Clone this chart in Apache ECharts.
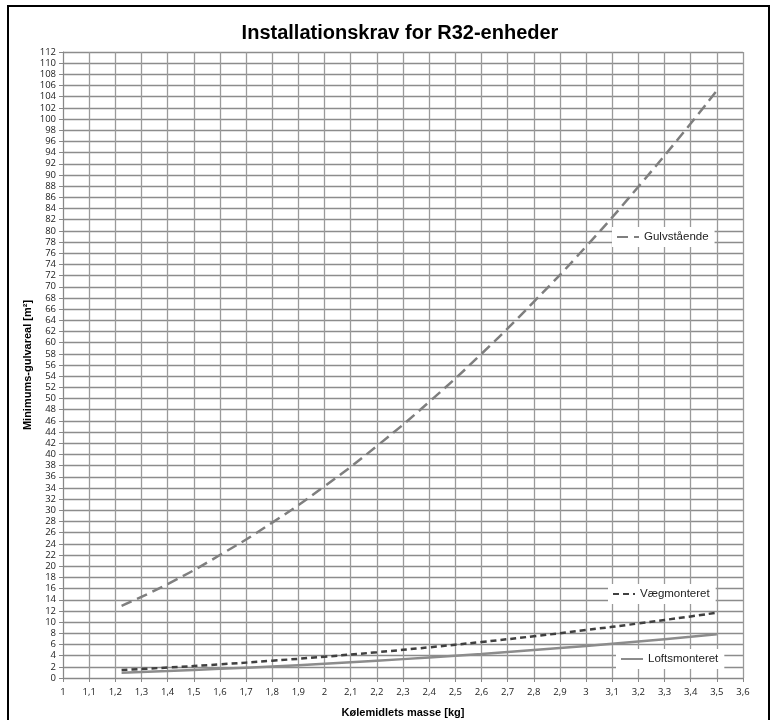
<!DOCTYPE html>
<html>
<head>
<meta charset="utf-8">
<script src="https://cdn.jsdelivr.net/npm/echarts@6/dist/echarts.min.js"></script>
<style>
  html, body { margin: 0; padding: 0; background: #fff; }
  #chart { width: 771px; height: 720px; }
</style>
</head>
<body>
<div id="chart"></div>
<script>
// kølemiddelmængde [kg]
const massKg = [1.224, 1.4, 1.6, 1.8, 2.0, 2.2, 2.4, 2.6, 2.8, 3.0, 3.2, 3.4, 3.5];
// minimums-gulvareal [m²] pr. monteringstype
const gulvstaaende = [12.9, 16.8, 22.0, 27.8, 34.3, 41.5, 49.4, 58.0, 67.3, 77.2, 87.9, 99.2, 105.1];
const vaegmonteret = [1.43, 1.87, 2.44, 3.09, 3.81, 4.61, 5.49, 6.44, 7.47, 8.58, 9.76, 11.02, 11.68];
const loftsmonteret = [0.96, 1.25, 1.64, 2.07, 2.55, 3.09, 3.68, 4.31, 5.0, 5.74, 6.54, 7.38, 7.82];

const seriesNames = ["Gulvstående", "Vægmonteret", "Loftsmonteret"];

function pairs(ys) {
  return massKg.map((x, i) => [x, ys[i]]);
}

const tickFont = { fontFamily: "Open Sans", fontSize: 9.5, color: "#222" };
const legendBase = {
  orient: "horizontal",
  backgroundColor: "#fff",
  padding: [4, 6, 4, 4],
  itemWidth: 22,
  itemHeight: 10,
  itemGap: 4,
  itemStyle: { opacity: 0 }, // kun linjen i forklaringen, ingen markør
  textStyle: { fontFamily: "Liberation Sans", fontSize: 11.5, color: "#222" },
};

const chart = echarts.init(document.getElementById("chart"));
const option = {
  animation: false,
  backgroundColor: "#fff",
  title: {
    text: "Installationskrav for R32-enheder",
    left: 395,
    top: 18,
    textAlign: "center",
    textStyle: { fontFamily: "Liberation Sans", fontWeight: "bold", fontSize: 20, color: "#000" },
  },
  graphic: [
    {
      type: "rect",
      shape: { x: 8, y: 6, width: 761, height: 730 },
      style: { fill: null, stroke: "#000", lineWidth: 2 },
      silent: true,
    },
  ],
  legend: [
    Object.assign({}, legendBase, { data: [seriesNames[0]], left: 612, top: 227 }),
    Object.assign({}, legendBase, { data: [seriesNames[1]], left: 608, top: 584 }),
    Object.assign({}, legendBase, { data: [seriesNames[2]], left: 616, top: 649 }),
  ],
  grid: { left: 63, right: 28, top: 52, bottom: 42, outerBoundsMode: "none" },
  xAxis: {
    type: "value",
    min: 1,
    max: 3.6,
    interval: 0.1,
    name: "Kølemidlets masse [kg]",
    nameLocation: "middle",
    nameGap: 29,
    nameMoveOverlap: false,
    nameTextStyle: { fontFamily: "Liberation Sans", fontWeight: "bold", fontSize: 11, color: "#000" },
    axisLine: { show: true, lineStyle: { color: "#888", width: 1 } },
    axisTick: { show: true, length: 4, lineStyle: { color: "#888" } },
    axisLabel: Object.assign({}, tickFont, {
      margin: 9,
      formatter: (v) => String(Math.round(v * 10) / 10).replace(".", ","),
    }),
    splitLine: { show: true, lineStyle: { color: "#9a9a9a", width: 1.3 } },
  },
  yAxis: {
    type: "value",
    min: 0,
    max: 112,
    interval: 2,
    name: "Minimums-gulvareal [m²]",
    nameLocation: "middle",
    nameGap: 30,
    nameMoveOverlap: false,
    nameTextStyle: { fontFamily: "Liberation Sans", fontWeight: "bold", fontSize: 11, color: "#000" },
    axisLine: { show: true, lineStyle: { color: "#888", width: 1 } },
    axisTick: { show: true, length: 4, lineStyle: { color: "#888" } },
    axisLabel: Object.assign({}, tickFont, { margin: 7 }),
    splitLine: { show: true, lineStyle: { color: "#8c8c8c", width: 1.3 } },
  },
  series: [
    {
      name: seriesNames[0],
      type: "line",
      smooth: true,
      symbol: "none",
      data: pairs(gulvstaaende),
      itemStyle: { color: "#7f7f7f" },
      lineStyle: { color: "#7f7f7f", width: 2.5, type: [11, 6] },
      z: 3,
    },
    {
      name: seriesNames[1],
      type: "line",
      smooth: true,
      symbol: "none",
      data: pairs(vaegmonteret),
      itemStyle: { color: "#404040" },
      lineStyle: { color: "#404040", width: 2.5, type: [6, 4] },
      z: 4,
    },
    {
      name: seriesNames[2],
      type: "line",
      smooth: true,
      symbol: "none",
      data: pairs(loftsmonteret),
      itemStyle: { color: "#8c8c8c" },
      lineStyle: { color: "#8c8c8c", width: 2.5 },
      z: 3,
    },
  ],
};
chart.setOption(option);
</script>
</body>
</html>
